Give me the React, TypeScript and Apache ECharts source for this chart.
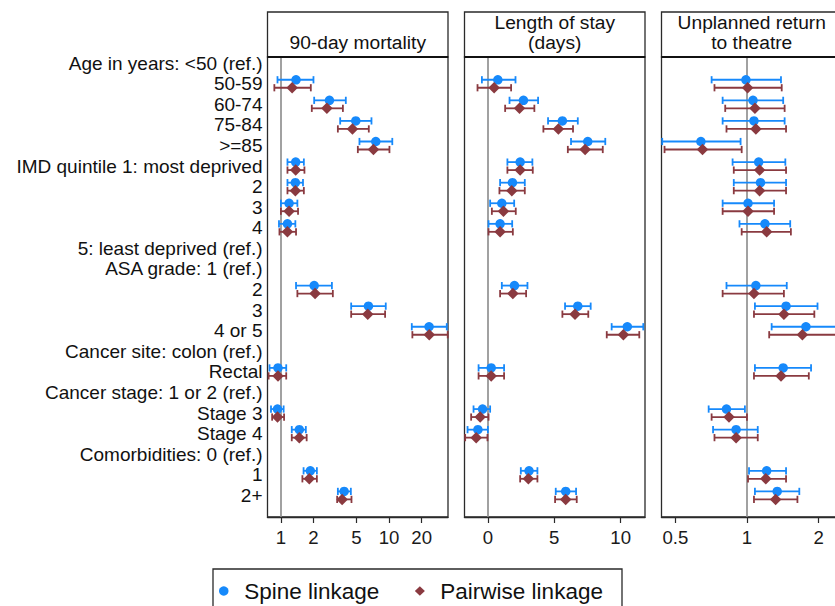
import React, { useEffect, useRef } from "react";
import * as echarts from "echarts";

// ---- Data ----
const rowLabels = [
  "Age in years: <50 (ref.)", "50-59", "60-74", "75-84", ">=85",
  "IMD quintile 1: most deprived", "2", "3", "4", "5: least deprived (ref.)",
  "ASA grade: 1 (ref.)", "2", "3", "4 or 5",
  "Cancer site: colon (ref.)", "Rectal",
  "Cancer stage: 1 or 2 (ref.)", "Stage 3", "Stage 4",
  "Comorbidities: 0 (ref.)", "1", "2+",
];
// rows (index into rowLabels) that have estimates
const dataRows = [1, 2, 3, 4, 5, 6, 7, 8, 11, 12, 13, 15, 17, 18, 20, 21];

const panelTitles = ["90-day mortality", "Length of stay\n(days)", "Unplanned return\nto theatre"];
const seriesNames = ["Spine linkage", "Pairwise linkage"];

// 90-day mortality (odds ratio, log scale)
const mortSpineEst = [1.38, 2.81, 4.92, 7.53, 1.37, 1.36, 1.19, 1.15, 2.03, 6.44, 23.4, 0.94, 0.93, 1.48, 1.87, 3.84];
const mortSpineLo = [0.93, 2.03, 3.53, 5.32, 1.15, 1.15, 1.0, 0.96, 1.38, 4.46, 16.2, 0.785, 0.81, 1.26, 1.62, 3.36];
const mortSpineHi = [2.0, 3.98, 6.87, 10.7, 1.63, 1.6, 1.42, 1.36, 2.96, 9.31, 34.1, 1.12, 1.06, 1.7, 2.15, 4.43];
const mortPairEst = [1.27, 2.66, 4.58, 7.16, 1.37, 1.36, 1.19, 1.15, 2.07, 6.35, 23.5, 0.94, 0.93, 1.48, 1.83, 3.68];
const mortPairLo = [0.87, 1.93, 3.36, 5.14, 1.15, 1.15, 1.0, 0.97, 1.42, 4.46, 16.4, 0.77, 0.83, 1.26, 1.58, 3.31];
const mortPairHi = [1.89, 3.74, 6.49, 10.07, 1.65, 1.63, 1.44, 1.38, 3.02, 9.18, 34.8, 1.12, 1.07, 1.73, 2.15, 4.49];

// Length of stay (days, linear)
const losSpineEst = [0.75, 2.68, 5.61, 7.52, 2.43, 1.85, 1.05, 0.92, 2.0, 6.77, 10.5, 0.25, -0.4, -0.75, 3.1, 5.86];
const losSpineLo = [-0.45, 1.63, 4.53, 6.26, 1.47, 0.92, 0.17, 0.05, 1.05, 5.81, 9.32, -0.7, -1.08, -1.53, 2.48, 5.11];
const losSpineHi = [2.08, 3.78, 6.77, 8.84, 3.35, 2.78, 1.98, 1.83, 2.98, 7.74, 11.7, 1.22, 0.17, 0.0, 3.73, 6.64];
const losPairEst = [0.47, 2.38, 5.31, 7.32, 2.43, 1.8, 1.17, 0.92, 1.88, 6.56, 10.2, 0.25, -0.58, -0.88, 3.05, 5.86];
const losPairLo = [-0.78, 1.3, 4.18, 6.02, 1.47, 0.87, 0.3, 0.05, 0.92, 5.61, 8.95, -0.7, -1.26, -1.71, 2.43, 5.06];
const losPairHi = [1.75, 3.5, 6.41, 8.65, 3.38, 2.78, 2.1, 1.88, 2.88, 7.56, 11.4, 1.22, 0.05, -0.03, 3.73, 6.69];

// Unplanned return to theatre (odds ratio, log scale)
const rttSpineEst = [0.99, 1.06, 1.07, 0.64, 1.12, 1.14, 1.01, 1.19, 1.09, 1.46, 1.77, 1.42, 0.82, 0.9, 1.21, 1.34];
const rttSpineLo = [0.71, 0.79, 0.79, 0.44, 0.87, 0.88, 0.79, 0.93, 0.82, 1.08, 1.27, 1.08, 0.69, 0.72, 1.02, 1.08];
const rttSpineHi = [1.39, 1.42, 1.44, 0.94, 1.45, 1.46, 1.3, 1.52, 1.47, 1.98, 2.45, 1.86, 0.98, 1.11, 1.46, 1.66];
const rttPairEst = [1.006, 1.08, 1.09, 0.65, 1.13, 1.13, 1.01, 1.21, 1.07, 1.43, 1.71, 1.39, 0.84, 0.9, 1.2, 1.32];
const rttPairLo = [0.73, 0.81, 0.82, 0.45, 0.88, 0.88, 0.79, 0.95, 0.79, 1.07, 1.24, 1.07, 0.71, 0.73, 1.01, 1.07];
const rttPairHi = [1.4, 1.44, 1.46, 0.95, 1.46, 1.46, 1.3, 1.53, 1.43, 1.92, 2.4, 1.82, 1.0, 1.11, 1.46, 1.63];

const mortTicks = [1, 2, 5, 10, 20];
const losTicks = [0, 5, 10];
const rttTicks = [0.5, 1, 2];

// ---- Styling / layout ----
const FONT = '"Liberation Sans", Arial, Helvetica, sans-serif';
const BLUE = "#1689fb";
const RED = "#8a3a40";
const FRAME = "#2a2a2a";

const panels = [
  { log: true, min: 0.752, max: 35, ticks: mortTicks, ref: 1,
    spine: [mortSpineEst, mortSpineLo, mortSpineHi], pair: [mortPairEst, mortPairLo, mortPairHi] },
  { log: false, min: -1.76, max: 11.83, ticks: losTicks, ref: 0,
    spine: [losSpineEst, losSpineLo, losSpineHi], pair: [losPairEst, losPairLo, losPairHi] },
  { log: true, min: 0.437, max: 2.51, ticks: rttTicks, ref: 1,
    spine: [rttSpineEst, rttSpineLo, rttSpineHi], pair: [rttPairEst, rttPairLo, rttPairHi] },
];

const GRID_LEFTS = [267.5, 464.5, 661.5];
const GRID_W = 180.5;
const GRID_TOP = 57;
const GRID_H = 460;
const HEAD_TOP = 12;
const OFFSET = 0.194;

function buildOption() {
  const grids: any[] = [];
  const xAxes: any[] = [];
  const yAxes: any[] = [];
  const series: any[] = [];
  const graphics: any[] = [];

  panels.forEach((p, i) => {
    const tf = (v: number) => (p.log ? Math.log10(v) : v);
    const inv = (v: number) => (p.log ? Math.round(Math.pow(10, v) * 10) / 10 : Math.round(v));
    grids.push({
      left: GRID_LEFTS[i], top: GRID_TOP, width: GRID_W, height: GRID_H,
      show: true, borderColor: FRAME, borderWidth: 1.3, backgroundColor: "#fff",
    });
    const tickVals = p.ticks.map(tf);
    xAxes.push({
      type: "value", gridIndex: i, min: tf(p.min), max: tf(p.max),
      splitLine: { show: false },
      axisLine: { show: true, onZero: false, lineStyle: { color: FRAME, width: 1.3 } },
      axisTick: { show: true, length: 6, customValues: tickVals, lineStyle: { color: FRAME, width: 1.2 } },
      axisLabel: {
        customValues: tickVals, margin: 11, fontSize: 18.6, fontFamily: FONT, color: "#1a1a1a",
        formatter: (v: number) => String(inv(v)),
      },
    });
    yAxes.push({
      type: "value", gridIndex: i, inverse: true, min: -0.3, max: 22.05,
      show: i === 0,
      splitLine: { show: false }, axisLine: { show: false }, axisTick: { show: false },
      axisLabel: {
        show: i === 0, customValues: rowLabels.map((_, k) => k), margin: 5,
        fontSize: 19, fontFamily: FONT, color: "#111",
        formatter: (v: number) => rowLabels[Math.round(v)] ?? "",
      },
    });

    [p.spine, p.pair].forEach((arr, s) => {
      const color = s === 0 ? BLUE : RED;
      const off = s === 0 ? -OFFSET : OFFSET;
      const [est, lo, hi] = arr;
      series.push({
        type: "custom", name: seriesNames[s] + " CI", xAxisIndex: i, yAxisIndex: i,
        silent: true, z: 2, clip: false,
        encode: { x: [0, 1], y: 2 },
        data: dataRows.map((r, k) => [tf(lo[k]), tf(hi[k]), r + off]),
        renderItem: (params: any, api: any) => {
          const yv = api.value(2);
          const a = api.coord([api.value(0), yv]);
          const b = api.coord([api.value(1), yv]);
          const h = 3.6;
          const style = { stroke: color, lineWidth: 1.8, fill: null };
          return {
            type: "group",
            children: [
              { type: "line", shape: { x1: a[0], y1: a[1], x2: b[0], y2: b[1] }, style },
              { type: "line", shape: { x1: a[0], y1: a[1] - h, x2: a[0], y2: a[1] + h }, style },
              { type: "line", shape: { x1: b[0], y1: b[1] - h, x2: b[0], y2: b[1] + h }, style },
            ],
          };
        },
      });
      series.push({
        type: "scatter", name: seriesNames[s], xAxisIndex: i, yAxisIndex: i,
        symbol: s === 0 ? "circle" : "diamond", symbolSize: s === 0 ? 9.5 : 11.5,
        itemStyle: { color, opacity: 1 }, silent: true, z: 3,
        data: dataRows.map((r, k) => [tf(est[k]), r + off]),
        markLine: s === 0 ? {
          silent: true, symbol: ["none", "none"], label: { show: false },
          lineStyle: { color: "#8a8a8a", width: 1.6, type: "solid" },
          data: [{ xAxis: tf(p.ref) }],
          z: 1,
        } : undefined,
      });
    });

    // header box
    graphics.push({
      type: "rect", silent: true, z: 10,
      shape: { x: GRID_LEFTS[i], y: HEAD_TOP, width: GRID_W, height: GRID_TOP - HEAD_TOP },
      style: { fill: "#fff", stroke: FRAME, lineWidth: 1.3 },
    });
    graphics.push({
      type: "line", silent: true, z: 11,
      shape: { x1: GRID_LEFTS[i], y1: GRID_TOP, x2: GRID_LEFTS[i] + GRID_W, y2: GRID_TOP },
      style: { stroke: "#111", lineWidth: 2 },
    });
    const twoLine = panelTitles[i].includes("\n");
    graphics.push({
      type: "text", silent: true, z: 12,
      x: GRID_LEFTS[i] + GRID_W / 2, y: twoLine ? 32.5 : 42,
      style: {
        text: panelTitles[i], font: `19.2px ${FONT}`, fill: "#111",
        align: "center", verticalAlign: "middle", textAlign: "center", textVerticalAlign: "middle",
        lineHeight: 20,
      },
    });
  });

  // legend frame
  graphics.push({
    type: "rect", silent: true, z: 10,
    shape: { x: 213, y: 569, width: 409, height: 50 },
    style: { fill: "none", stroke: FRAME, lineWidth: 1.3 },
  });

  return {
    animation: false,
    backgroundColor: "#fff",
    grid: grids,
    xAxis: xAxes,
    yAxis: yAxes,
    series,
    graphic: graphics,
    legend: {
      left: 219, top: 578, padding: 0, itemGap: 35.5,
      itemWidth: 10, itemHeight: 9.5,
      selectedMode: false,
      data: [
        { name: seriesNames[0], icon: "circle" },
        { name: seriesNames[1], icon: "diamond" },
      ],
      textStyle: { fontSize: 22.5, fontFamily: FONT, color: "#111", lineHeight: 26, padding: [0, 0, 0, 10.5] },
    },
  };
}

export default function App() {
  const ref = useRef<HTMLDivElement>(null);
  useEffect(() => {
    if (!ref.current) return;
    const chart = echarts.init(ref.current, undefined, { renderer: "svg" });
    chart.setOption(buildOption() as any);
    return () => chart.dispose();
  }, []);
  return (
    <div style={{ position: "absolute", left: 0, top: 0, width: 835, height: 606, overflow: "hidden", background: "#fff" }}>
      <div ref={ref} style={{ width: 860, height: 606 }} />
    </div>
  );
}
